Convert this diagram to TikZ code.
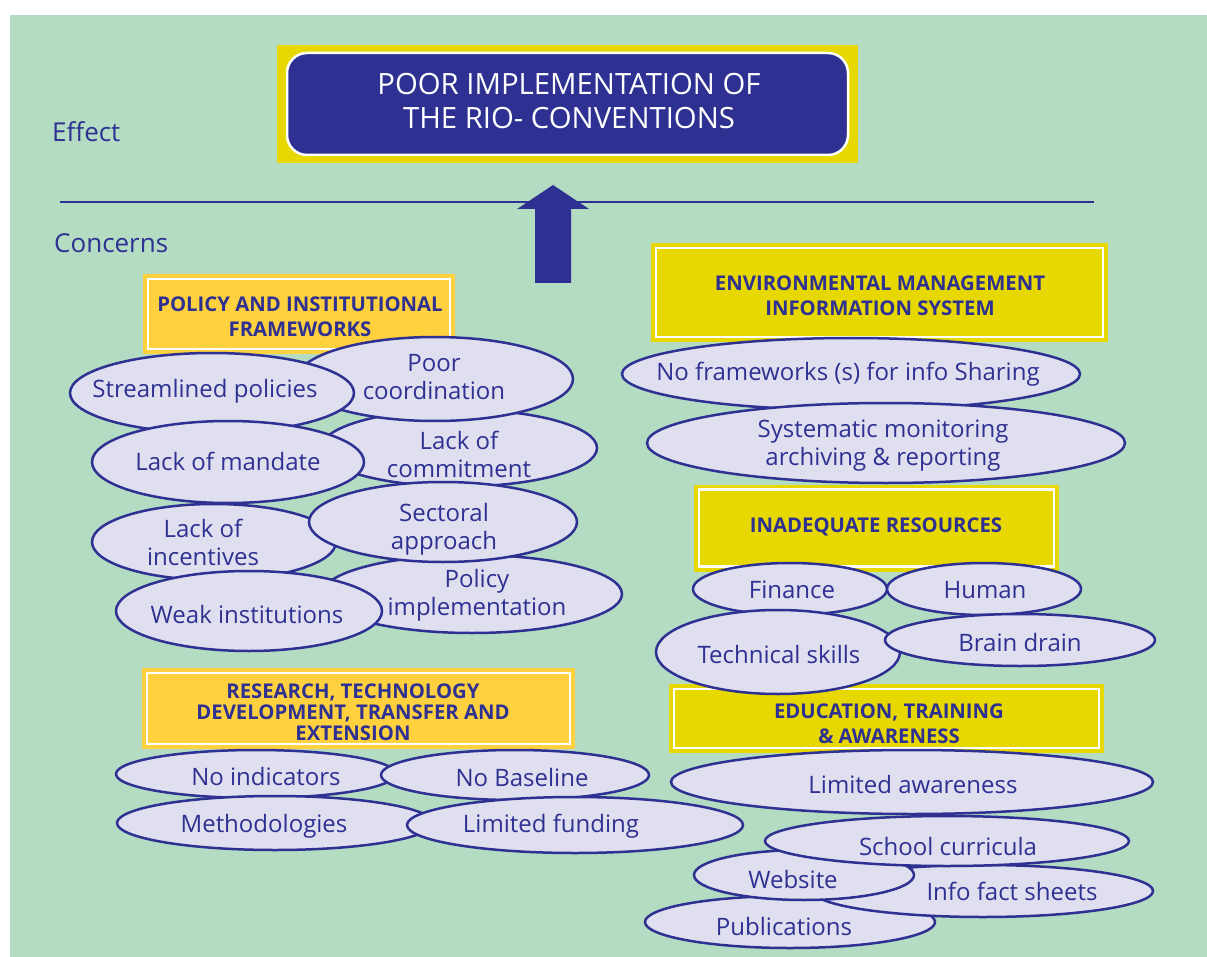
\documentclass[tikz,border=0pt]{standalone}
\usepackage{fontspec}
\setmainfont{Open Sans}
\usetikzlibrary{shapes.geometric}

\definecolor{bg}{RGB}{179,220,194}
\definecolor{navy}{RGB}{46,49,146}
\definecolor{lav}{RGB}{224,223,240}
\definecolor{gold}{RGB}{255,209,63}
\definecolor{lime}{RGB}{230,216,0}

% bubble: name, cx, cy, rx, ry, text x, text y, text
\newcommand{\bubble}[8]{%
  \node[bub, minimum width=2*#4pt, minimum height=2*#5pt] (#1) at (#2,#3) {};
  \node[btxt] (#1-t) at (#6,#7) {#8};}

\begin{document}
\begin{tikzpicture}[x=1pt,y=-1pt,
  bub/.style={ellipse, draw=navy, fill=lav, line width=2.5pt, inner sep=0pt},
  btxt/.style={text=navy, font=\fontsize{24}{28}\selectfont, align=center, inner sep=0pt},
  hd/.style={fill=#1, draw=#1, double=white, double distance=2.5pt, line width=3.75pt,
             inner sep=0pt},
  htxt/.style={text=navy, align=center, inner sep=0pt,
             font=\bfseries\fontsize{20.3}{25}\selectfont},
  side/.style={text=navy, font=\fontsize{26}{30}\selectfont, anchor=west, inner sep=0pt},
]
\useasboundingbox (0,0) rectangle (1207,957);
\fill[white] (0,0) rectangle (1207,957);
\fill[bg] (10,15) rectangle (1207,957);

% effect box
\node[fill=lime, minimum width=581pt, minimum height=118pt, inner sep=0pt] (effframe) at (567.5,104) {};
\node[fill=navy, draw=white, line width=2.5pt, rounded corners=20pt,
      minimum width=561pt, minimum height=102pt, inner sep=0pt] (effect) at (567.5,104) {};
\node[text=white, align=center, inner sep=0pt, font=\fontsize{29.3}{34}\selectfont]
      (effect-t) at (569,101) {POOR IMPLEMENTATION OF\\THE RIO- CONVENTIONS};

\node[side] (efflabel) at (52,132) {Effect};
\node[side] (conclabel) at (54,243) {Concerns};

% divider and block arrow
\coordinate (divl) at (60,202);
\coordinate (divr) at (1094,202);
\draw[navy, line width=1.5pt] (divl) -- (divr);
\fill[navy] (535,283) -- (535,209) -- (517,209) -- (553,185) -- (589,209)
            -- (571,209) -- (571,283) -- cycle;

% concern headings
\node[hd=gold, minimum width=302pt, minimum height=70pt] (policy) at (299,314) {};
\node[htxt] (policy-t) at (300,317) {POLICY AND INSTITUTIONAL\\FRAMEWORKS};
\node[hd=lime, minimum width=447pt, minimum height=89pt] (emis) at (879.5,292.5) {};
\node[htxt] (emis-t) at (880,296) {ENVIRONMENTAL MANAGEMENT\\INFORMATION SYSTEM};
\node[hd=lime, minimum width=355pt, minimum height=77pt] (resources) at (876.5,528) {};
\node[htxt] (resources-t) at (876,527) {INADEQUATE RESOURCES};
\node[hd=gold, minimum width=423pt, minimum height=71pt] (research) at (358.5,708.5) {};
\node[htxt, font=\bfseries\fontsize{20.3}{21}\selectfont] (research-t) at (353,712)
  {RESEARCH, TECHNOLOGY\\DEVELOPMENT, TRANSFER AND\\EXTENSION};
\node[hd=lime, minimum width=425pt, minimum height=59pt] (education) at (886.5,718.5) {};
\node[htxt] (education-t) at (889,724) {EDUCATION, TRAINING\\\& AWARENESS};

% policy and institutional frameworks
\bubble{lc}{459}{448}{138}{38.5}{459}{454}{Lack of\\commitment}
\bubble{pc}{435}{379}{138}{42}{434}{377}{Poor\\coordination}
\bubble{sp}{212}{393}{142}{40}{205}{391}{Streamlined policies}
\bubble{lm}{228}{462}{136}{41}{228}{461}{Lack of mandate}
\bubble{pi}{472}{594}{150}{39}{477}{595}{Policy\\implementation}
\bubble{li}{214}{542}{122}{38}{203}{542}{Lack of\\incentives}
\bubble{sa}{443}{522}{134}{40}{444}{529}{Sectoral\\approach}
\bubble{wi}{249}{611}{133}{40}{247}{614}{Weak institutions}

% information system
\bubble{nf}{851}{374}{229}{36}{848}{374}{No frameworks (s) for info Sharing}
\bubble{sm}{886}{443}{239}{40}{883}{446}{Systematic monitoring\\archiving \& reporting}

% resources
\bubble{fi}{790}{589}{97}{26}{792}{590}{Finance}
\bubble{hu}{984}{589}{97}{26}{985}{590}{Human}
\bubble{ts}{778}{652}{122}{42}{779}{654}{Technical skills}
\bubble{bd}{1020}{640}{135}{26}{1020}{642}{Brain drain}

% education, training and awareness
\bubble{la}{912}{782}{241}{32}{913}{784}{Limited awareness}
\bubble{pu}{790}{922}{145}{26}{784}{926}{Publications}
\bubble{if}{983}{891}{170}{26}{1012}{891}{Info fact sheets}
\bubble{wb}{804}{875}{110}{25}{793}{879}{Website}
\bubble{sc}{947}{841}{182}{25}{948}{846}{School curricula}

% research and technology
\bubble{ni}{256}{774}{140}{24}{266}{776}{No indicators}
\bubble{nb}{515}{775}{134}{25}{522}{777}{No Baseline}
\bubble{me}{275}{823}{158}{27}{264}{826}{Methodologies}
\bubble{lf}{575}{825}{168}{28}{551}{826}{Limited funding}
\end{tikzpicture}
\end{document}
